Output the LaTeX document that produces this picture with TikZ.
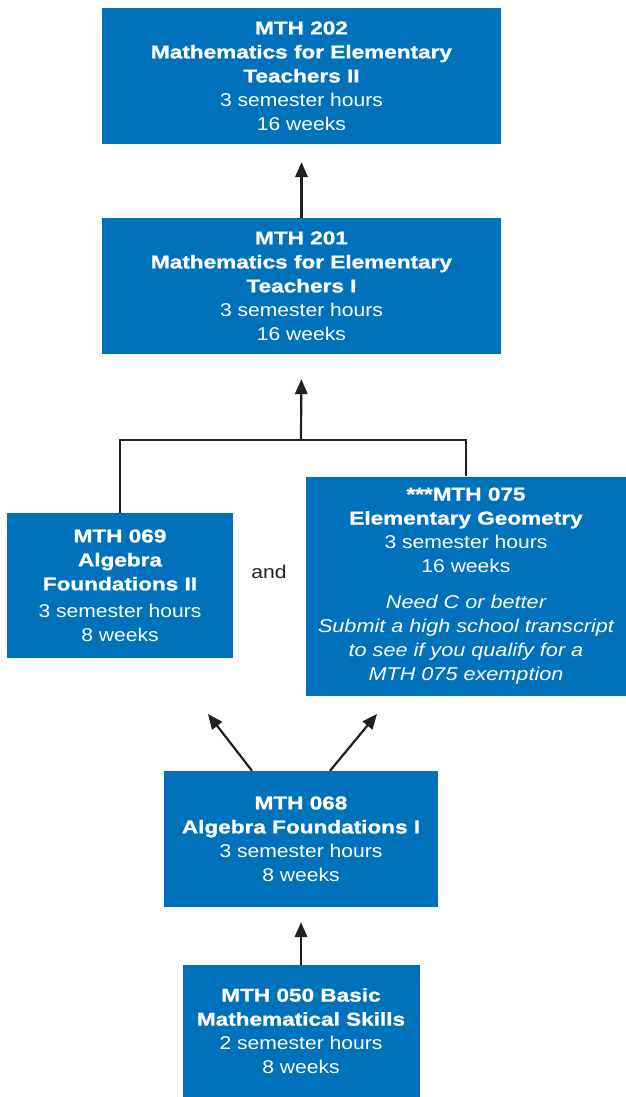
\documentclass[tikz,border=0pt]{standalone}
\usepackage{fontspec}
\setmainfont{Liberation Sans}[FakeStretch=1.14, ItalicFeatures={FakeStretch=1.17}]
\newfontfamily\titlef{Liberation Sans Bold}[FakeStretch=1.22, FakeBold=1.2]
\usetikzlibrary{arrows.meta}
\definecolor{boxblue}{RGB}{0,113,187}
\definecolor{ink}{RGB}{35,31,32}
\tikzset{
  course/.style={fill=boxblue, text=white, inner sep=0pt, align=center,
    font=\fontsize{18.5}{24}\selectfont},
  link/.style={draw=ink, line width=2.2pt},
  arr/.style={link, -{Triangle[length=15pt,width=12.5pt]}},
}
\newcommand{\ttl}[1]{{\titlef #1}}
\begin{document}
\begin{tikzpicture}[x=1pt,y=-1pt]
\useasboundingbox (0,0) rectangle (626,1097);
\node[course, minimum width=399pt, minimum height=136pt] (m202) at (301.5,76)
  {\ttl{MTH 202}\\\ttl{Mathematics for Elementary}\\\ttl{Teachers II}\\3 semester hours\\16 weeks};
\node[course, minimum width=399pt, minimum height=136pt] (m201) at (301.5,286)
  {\ttl{MTH 201}\\\ttl{Mathematics for Elementary}\\\ttl{Teachers I}\\3 semester hours\\16 weeks};
\node[course, minimum width=226pt, minimum height=145pt] (m069) at (120,585.5)
  {\ttl{MTH 069}\\\ttl{Algebra}\\\ttl{Foundations II}\\[3pt]3 semester hours\\8 weeks};
\node[course, minimum width=320pt, minimum height=219pt] (m075) at (466,586)
  {\ttl{***MTH 075}\\\ttl{Elementary Geometry}\\3 semester hours\\16 weeks\\[12pt]
   \itshape Need C or better\\\itshape Submit a high school transcript\\\itshape to see if you qualify for a\\\itshape MTH 075 exemption};
\node[course, minimum width=274pt, minimum height=136pt] (m068) at (301,839)
  {\ttl{MTH 068}\\\ttl{Algebra Foundations I}\\3 semester hours\\8 weeks};
\node[course, minimum width=237pt, minimum height=132pt] (m050) at (301,1031)
  {\ttl{MTH 050 Basic}\\\ttl{Mathematical Skills}\\2 semester hours\\8 weeks};
\node[text=ink, font=\fontsize{18.5}{22}\selectfont] (and) at (269,572) {and};
% connectors
\draw[arr, shorten >=18pt] (m201.north) -- (m202.south);
\coordinate (j) at (301,440);
\draw[link] (m069.north) |- (j) -| (m075.north);
\draw[arr, shorten >=25pt] (j) -- (m201.south);
\coordinate (tl) at (208,714);
\coordinate (tr) at (377,714);
\draw[arr] ([xshift=-49pt]m068.north) -- (tl);
\draw[arr] ([xshift=29pt]m068.north) -- (tr);
\draw[arr, shorten >=15pt] (m050.north) -- (m068.south);
\end{tikzpicture}
\end{document}
